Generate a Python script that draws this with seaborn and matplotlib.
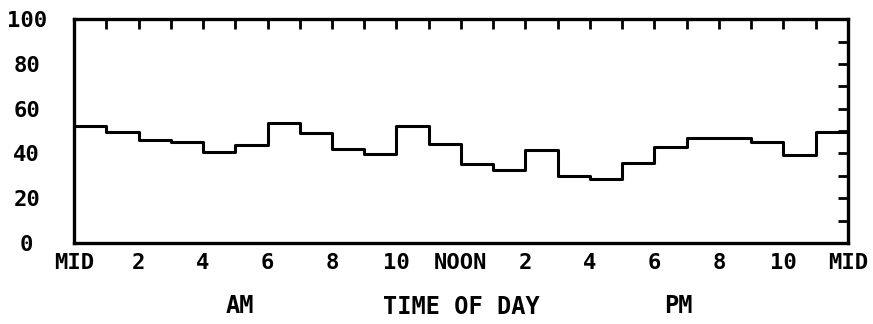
import matplotlib
matplotlib.use("Agg")
import matplotlib.pyplot as plt
from matplotlib.ticker import MultipleLocator, FixedLocator
import seaborn as sns
import pandas as pd

# Hourly averages, one value per hour starting at midnight
hours = list(range(24))
values = [52.4, 49.5, 45.9, 45.0, 40.6, 43.8, 53.8, 49.0, 42.1, 39.9,
          52.4, 44.4, 35.5, 32.4, 41.5, 30.0, 28.6, 35.8, 42.8, 47.0,
          47.0, 45.2, 39.3, 49.8]
tick_hours = [0, 2, 4, 6, 8, 10, 12, 14, 16, 18, 20, 22, 24]
tick_labels = ["MID", "2", "4", "6", "8", "10", "NOON",
               "2", "4", "6", "8", "10", "MID"]
y_ticks = [0, 20, 40, 60, 80, 100]

sns.set_theme(style="white")
plt.rcParams["font.family"] = ["DejaVu Sans Mono"]

# Step edges: last hour is held until the following midnight
df = pd.DataFrame({"hour": hours + [24], "value": values + [values[-1]]})

fig = plt.figure(figsize=(8.73, 3.24), dpi=100)
ax = fig.add_axes([0.0848, 0.250, 0.8865, 0.691])

sns.lineplot(data=df, x="hour", y="value", drawstyle="steps-post",
             color="black", linewidth=2.2, ax=ax)

ax.set_xlim(0, 24)
ax.set_ylim(0, 100)
ax.xaxis.set_major_locator(FixedLocator(tick_hours))
ax.set_xticklabels(tick_labels)
ax.xaxis.set_minor_locator(MultipleLocator(1))
ax.yaxis.set_major_locator(FixedLocator(y_ticks))
ax.yaxis.set_minor_locator(MultipleLocator(10))

ax.tick_params(axis="both", which="both", direction="in", length=7,
               width=2, color="black", top=True, right=True,
               labelsize=16, labelcolor="black")
ax.tick_params(axis="x", which="major", pad=7)
ax.tick_params(axis="y", which="major", pad=34)
for lbl in ax.get_xticklabels() + ax.get_yticklabels():
    lbl.set_fontweight("bold")
for lbl in ax.get_yticklabels():
    lbl.set_horizontalalignment("center")

for spine in ax.spines.values():
    spine.set_visible(True)
    spine.set_color("black")
    spine.set_linewidth(2.4)

ax.set_xlabel("")
ax.set_ylabel("")

label_style = dict(ha="center", va="center", fontsize=17,
                   fontweight="bold", color="black")
fig.text(240 / 873, 1 - 306 / 324, "AM", **label_style)
fig.text(461 / 873, 1 - 307 / 324, "TIME OF DAY", **label_style)
fig.text(678 / 873, 1 - 306 / 324, "PM", **label_style)

fig.savefig("out.png", dpi=100, facecolor="white")
